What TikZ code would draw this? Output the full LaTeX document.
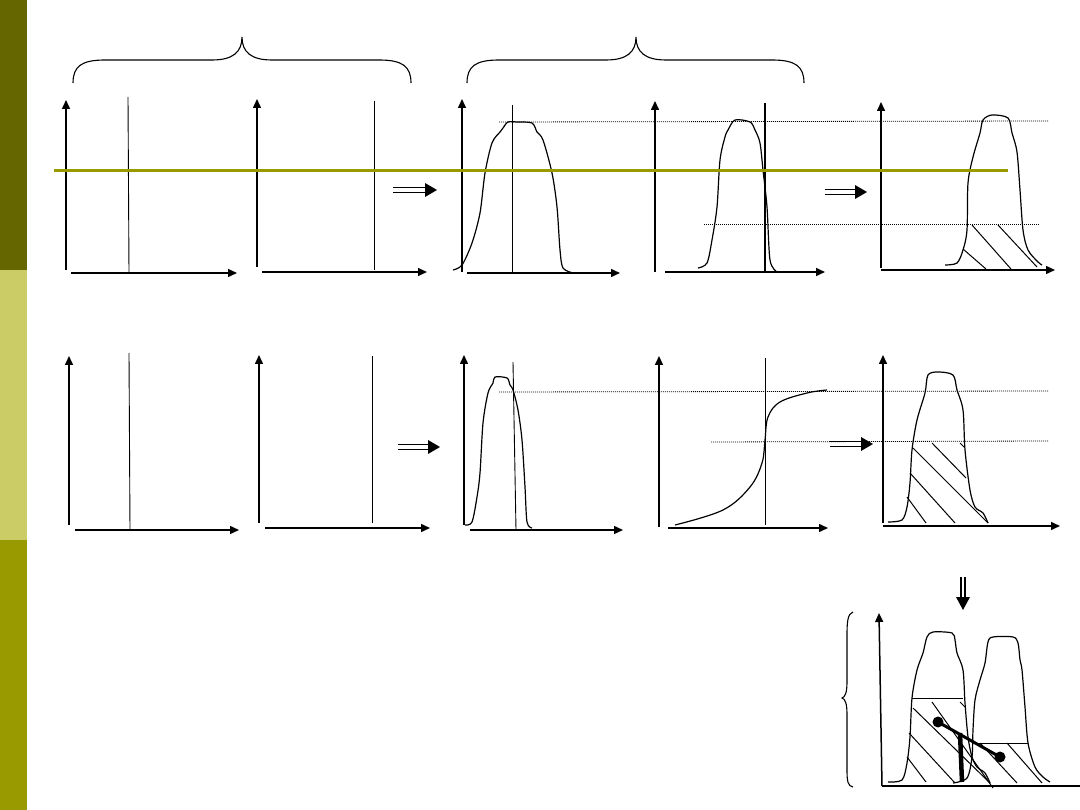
\documentclass[tikz,border=0pt]{standalone}
\usetikzlibrary{arrows.meta}
\definecolor{oliveD}{RGB}{102,102,0}
\definecolor{oliveL}{RGB}{204,204,102}
\definecolor{oliveM}{RGB}{153,153,0}
\tikzset{
  axis/.style={line width=1.5pt,-{Triangle[length=9pt,width=8pt]}},
  marker/.style={line width=0.9pt},
  thickmarker/.style={line width=2.2pt},
  curve/.style={line width=1.2pt},
  dotl/.style={line width=0.8pt, dash pattern=on 1pt off 1pt},
  hatch/.style={line width=1pt},
  brace/.style={line width=1.1pt},
}
\newcommand{\dblarr}[3]{%
  \draw[line width=1.3pt] (#1,#3-2.2) -- (#2-9,#3-2.2) (#1,#3+2.2) -- (#2-9,#3+2.2);
  \fill (#2-12,#3-7) -- (#2,#3) -- (#2-12,#3+7) -- cycle;
}
\begin{document}
\begin{tikzpicture}[x=1pt,y=-1pt]
\useasboundingbox (0,0) rectangle (1080,810);
% sidebar
\fill[oliveD] (0,0) rectangle (27,270);
\fill[oliveL] (0,270) rectangle (27,540);
\fill[oliveM] (0,540) rectangle (27,810);

% braces
\draw[brace] (73,83) .. controls (73,66) and (82,60) .. (105,60) -- (212,60)
  .. controls (233,60) and (242,52) .. (242,37)
  .. controls (242,52) and (251,60) .. (272,60) -- (379,60)
  .. controls (402,60) and (411,66) .. (411,83);
\draw[brace] (467,83) .. controls (467,66) and (476,60) .. (499,60) -- (606,60)
  .. controls (627,60) and (636,52) .. (636,37)
  .. controls (636,52) and (645,60) .. (666,60) -- (772,60)
  .. controls (795,60) and (804,66) .. (804,83);

% ---------- row 1 ----------
% panel 1
\draw[axis] (66,270) -- (66,100);
\draw[axis] (71,273) -- (237,273);
\draw[marker] (128,97) -- (129,273);
% panel 2
\draw[axis] (257,267) -- (257,99);
\draw[axis] (262,272) -- (427,272);
\draw[marker] (374,101) -- (374,270);
\dblarr{393}{437}{190}
% panel 3
\draw[axis] (462,272) -- (462,99);
\draw[axis] (467,273) -- (620,273);
\draw[marker] (512,105) -- (512,273);
\draw[curve] plot[smooth,tension=0.5] coordinates {(453,270) (462,265) (472,243) (480,213) (485,173) (492,143) (500,132) (503,128) (508,122) (517,122) (532,123) (537,132) (543,140) (552,173) (557,207) (560,250) (563,268) (573,273)};
\draw[dotl] (499,122) -- (1048,121);
% panel 4
\draw[axis] (655,272) -- (655,101);
\draw[axis] (665,272) -- (825,272);
\draw[thickmarker] (765,103) -- (765,272);
\draw[curve] plot[smooth,tension=0.5] coordinates {(698,268) (707,263) (712,240) (717,207) (720,160) (725,137) (728,130) (735,120) (750,122) (755,130) (760,143) (763,170) (767,207) (770,260) (777,272)};
\draw[dotl] (704,224) -- (1040,224);
\dblarr{825}{867}{192}
% panel 5
\draw[axis] (881,268) -- (881,102);
\draw[axis] (881,270) -- (1055,270);
\draw[curve] plot[smooth,tension=0.5] coordinates {(945,265) (957,263) (963,250) (967,230) (968,183) (973,157) (980,133) (983,120) (992,115) (1008,118) (1012,133) (1017,152) (1020,190) (1023,230) (1028,250) (1038,262) (1042,265)};
\draw[hatch] (963,249) -- (986,269);
\draw[hatch] (972,225) -- (1011,269);
\draw[hatch] (998,225) -- (1037,267);

% ---------- row 2 ----------
% panel 6
\draw[axis] (69,525) -- (69,356);
\draw[axis] (75,530) -- (239,530);
\draw[marker] (129,353) -- (130,530);
% panel 7
\draw[axis] (259,523) -- (259,355);
\draw[axis] (265,528) -- (430,528);
\draw[marker] (372,356) -- (372,523);
\dblarr{398}{440}{447}
% panel 8
\draw[axis] (464,525) -- (464,355);
\draw[axis] (470,530) -- (623,530);
\draw[marker] (513,362) -- (516,530);
\draw[curve] plot[smooth,tension=0.5] coordinates {(465,525) (472,522) (477,497) (480,473) (483,423) (488,393) (493,383) (495,377) (507,378) (510,385) (513,390) (518,410) (522,440) (525,487) (527,522) (532,528)};
\draw[dotl] (499,392) -- (1048,391);
% panel 9
\draw[axis] (659,527) -- (659,356);
\draw[axis] (668,528) -- (828,528);
\draw[marker] (765,358) -- (765,525);
\draw[curve] plot[smooth,tension=0.6] coordinates {(675,525) (723,510) (750,487) (762,463) (765,440) (768,417) (780,402) (807,393) (827,390)};
\draw[dotl] (711,442) -- (1048,441);
\dblarr{830}{873}{444}
% panel 10
\draw[axis] (883,523) -- (883,355);
\draw[axis] (883,526) -- (1060,526);
\draw[curve] plot[smooth,tension=0.5] coordinates {(888,522) (902,520) (907,507) (910,483) (912,450) (917,420) (925,393) (928,375) (938,372) (953,375) (957,390) (963,410) (965,450) (970,490) (975,507) (983,513) (988,523)};
\draw[hatch] (907,497) -- (926,523);
\draw[hatch] (910,473) -- (955,523);
\draw[hatch] (913,448) -- (988,523);
\draw[hatch] (932,443) -- (966,478);
\draw[hatch] (960,443) -- (964,447);

% down arrow
\draw[line width=1.3pt] (961,577) -- (961,599) (965,577) -- (965,599);
\fill (956,597) -- (963,610) -- (970,597) -- cycle;

% ---------- panel 11 ----------
\draw[brace] (853,612) .. controls (848,614) and (847,620) .. (847,635) -- (847,682)
  .. controls (847,693) and (845,697) .. (842,698)
  .. controls (845,699) and (847,703) .. (847,714) -- (847,770)
  .. controls (847,782) and (848,786) .. (853,787);
\draw[axis] (882,786) -- (879,613);
\draw[line width=1.5pt] (882,786) -- (1080,786);
\draw[curve] plot[smooth,tension=0.5] coordinates {(888,782) (902,780) (907,763) (910,737) (912,698) (917,670) (923,653) (927,637) (933,632) (952,633) (955,640) (957,653) (963,670) (965,703) (968,737) (972,757) (977,767) (985,773) (990,783)};
\draw[curve] plot[smooth,tension=0.5] coordinates {(953,783) (967,778) (972,757) (973,730) (975,700) (980,680) (985,663) (988,642) (993,637) (1013,637) (1018,643) (1020,660) (1022,670) (1025,707) (1028,743) (1035,767) (1043,777) (1050,782)};
\draw[hatch] (912,698) -- (963,698);
\draw[hatch] (977,743) -- (1028,743);
\draw[hatch] (907,757) -- (926,782);
\draw[hatch] (909,733) -- (955,783);
\draw[hatch] (913,708) -- (990,783);
\draw[hatch] (932,702) -- (993,788);
\draw[hatch] (960,702) -- (965,707);
\draw[hatch] (980,743) -- (1017,783);
\draw[hatch] (1007,743) -- (1042,783);
\draw[line width=4.5pt] (960,733) -- (962,782);
\draw[line width=3pt] (938,722) -- (1000,757);
\fill (938,722) circle (5.5);
\fill (1000,757) circle (5.5);

% olive guide line
\draw[oliveM, line width=3pt] (54,171) -- (1008,171);
\end{tikzpicture}
\end{document}
